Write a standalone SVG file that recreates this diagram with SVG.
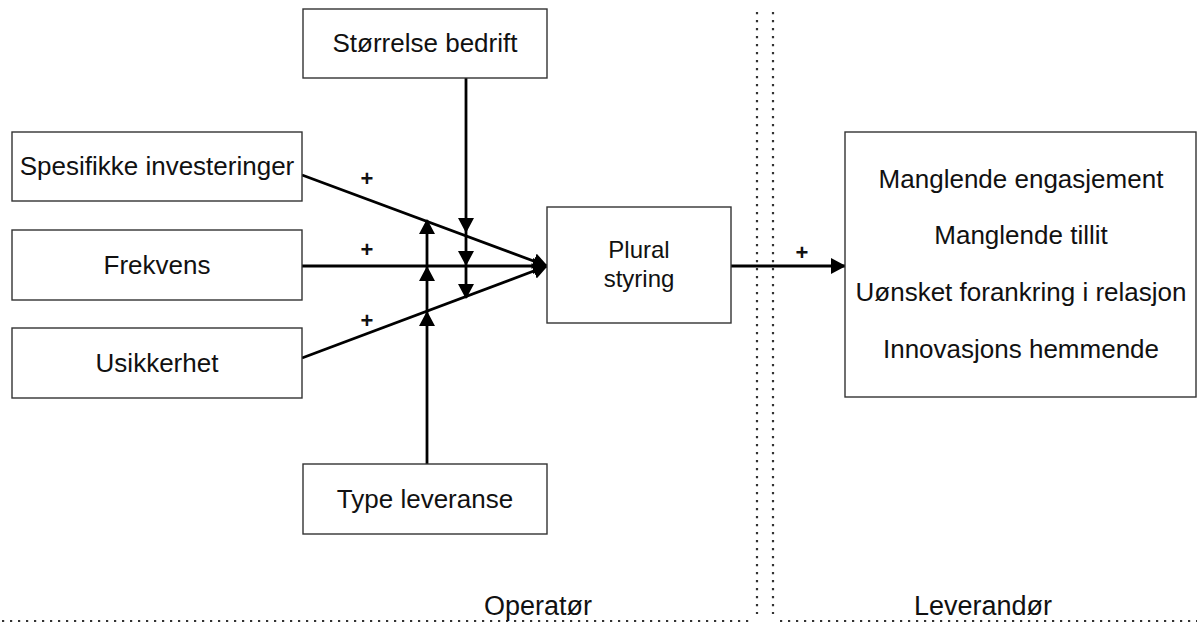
<svg xmlns="http://www.w3.org/2000/svg" width="1197" height="629" viewBox="0 0 1197 629">
<defs>
<style>
.box{fill:#fff;stroke:#333;stroke-width:1.4}
.t{font-family:"Liberation Sans",Arial,Helvetica,sans-serif;font-size:26px;fill:#111;text-anchor:middle}
.lbl{font-size:27px}
.sm{font-size:24px}
.plus{font-family:"Liberation Sans",Arial,sans-serif;font-size:22px;font-weight:bold;fill:#111;text-anchor:middle}
.c{fill:none;stroke:#000;stroke-width:2.8}
.dot{fill:none;stroke:#333;stroke-width:2.2;stroke-dasharray:2.2 5.8}
</style>
<marker id="ah" markerUnits="userSpaceOnUse" markerWidth="17" markerHeight="17" refX="14" refY="8" orient="auto" viewBox="0 0 17 17">
<path d="M0,0 L15,8 L0,16 z" fill="#000"/>
</marker>
</defs>
<rect width="1197" height="629" fill="#fff"/>
<g id="dividers">
<line class="dot" x1="757" y1="12" x2="757" y2="614"/>
<line class="dot" x1="773" y1="12" x2="773" y2="614"/>
<line class="dot" x1="2" y1="621" x2="752" y2="621"/>
<line class="dot" x1="780" y1="621" x2="1197" y2="621"/>
</g>
<g id="connectors">
<path class="c" d="M302,175 L547,266" marker-end="url(#ah)"/>
<path class="c" d="M302,266 L547,266" marker-end="url(#ah)"/>
<path class="c" d="M302,358 L547,266" marker-end="url(#ah)"/>
<path class="c" d="M466,78 V232" marker-end="url(#ah)"/>
<path class="c" d="M466,232 V265" marker-end="url(#ah)"/>
<path class="c" d="M466,265 V298" marker-end="url(#ah)"/>
<path class="c" d="M427,464 V312" marker-end="url(#ah)"/>
<path class="c" d="M427,312 V267" marker-end="url(#ah)"/>
<path class="c" d="M427,267 V220" marker-end="url(#ah)"/>
<path class="c" d="M731,266 H845" marker-end="url(#ah)"/>
<text class="plus" x="367" y="186">+</text>
<text class="plus" x="367" y="257">+</text>
<text class="plus" x="367" y="328">+</text>
<text class="plus" x="802" y="260">+</text>
</g>
<g id="n-spesifikke">
<rect class="box" x="12" y="132" width="290" height="69"/>
<text class="t" x="157" y="175">Spesifikke investeringer</text>
</g>
<g id="n-frekvens">
<rect class="box" x="12" y="230" width="290" height="70"/>
<text class="t" x="157" y="274">Frekvens</text>
</g>
<g id="n-usikkerhet">
<rect class="box" x="12" y="328" width="290" height="70"/>
<text class="t" x="157" y="372">Usikkerhet</text>
</g>
<g id="n-storrelse">
<rect class="box" x="303" y="9" width="244" height="69"/>
<text class="t" x="425" y="52">Størrelse bedrift</text>
</g>
<g id="n-type">
<rect class="box" x="303" y="464" width="244" height="70"/>
<text class="t" x="425" y="508">Type leveranse</text>
</g>
<g id="n-plural">
<rect class="box" x="547" y="207" width="184" height="116"/>
<text class="t sm" x="639" y="258">Plural</text>
<text class="t sm" x="639" y="287">styring</text>
</g>
<g id="n-effekter">
<rect class="box" x="845" y="132" width="351" height="265"/>
<text class="t" x="1021" y="188">Manglende engasjement</text>
<text class="t" x="1021" y="244">Manglende tillit</text>
<text class="t" x="1021" y="301">Uønsket forankring i relasjon</text>
<text class="t" x="1021" y="358">Innovasjons hemmende</text>
</g>
<g id="labels">
<text class="t lbl" x="538" y="615">Operatør</text>
<text class="t lbl" x="983" y="615">Leverandør</text>
</g>
</svg>
